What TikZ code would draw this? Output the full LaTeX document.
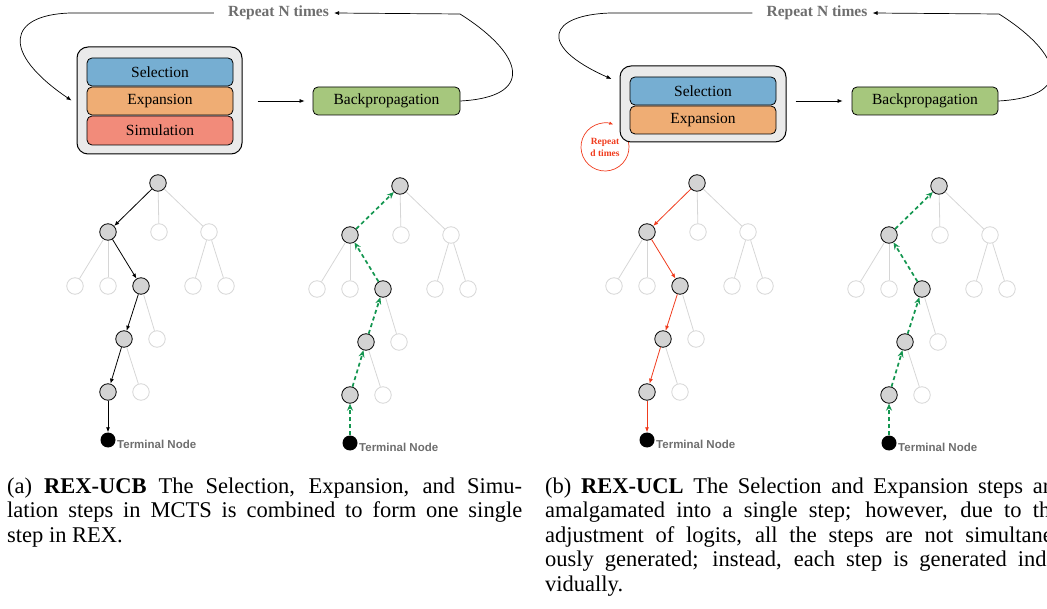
\documentclass[tikz,border=0pt]{standalone}
\usepackage{fontspec}
\setmainfont{Liberation Serif}
\newfontfamily\lblsans{Liberation Sans}
\usetikzlibrary{arrows.meta}
\definecolor{selc}{RGB}{118,174,210}
\definecolor{expc}{RGB}{239,173,116}
\definecolor{simc}{RGB}{242,139,122}
\definecolor{bpc}{RGB}{166,199,125}
\definecolor{outc}{RGB}{234,234,234}
\definecolor{ngray}{RGB}{211,211,211}
\definecolor{lline}{RGB}{214,214,214}
\definecolor{txtgray}{RGB}{110,110,110}
\definecolor{redc}{RGB}{240,60,30}
\definecolor{greenc}{RGB}{20,150,80}
\tikzset{
  stepbox/.style={draw=black, line width=0.8pt, rounded corners=5pt, minimum width=146pt, minimum height=28pt, inner sep=0pt, font=\fontsize{15.5}{18}\selectfont},
  outerbox/.style={draw=black, line width=1pt, fill=outc, rounded corners=11pt, inner sep=0pt},
  reptext/.style={inner sep=0pt, text=txtgray, font=\bfseries\fontsize{15.5}{18}\selectfont},
  loopline/.style={draw=black, line width=0.7pt, -{Latex[length=5pt,width=4pt]}},
  gn/.style={circle, draw=black, fill=ngray, line width=0.8pt, minimum size=16.5pt, inner sep=0pt},
  wn/.style={circle, draw=lline, fill=white, line width=0.8pt, minimum size=16.5pt, inner sep=0pt},
  tn/.style={circle, fill=black, minimum size=15pt, inner sep=0pt},
  tedge/.style={draw=lline, line width=0.8pt},
  tlabel/.style={anchor=base west, inner sep=0pt, text=txtgray, font=\lblsans\bfseries\fontsize{11.5}{13}\selectfont},
  selarrow/.style={draw=black, line width=0.8pt, -{Latex[length=5pt,width=4pt]}},
  redarrow/.style={draw=redc, line width=0.8pt, -{Latex[length=5pt,width=4pt]}},
  greenarrow/.style={draw=greenc, line width=1.7pt, dash pattern=on 4pt off 3pt, -{Stealth[length=7pt,width=6pt]}},
  captext/.style={anchor=base west, inner sep=0pt, font=\fontsize{22.5}{25}\selectfont},
}
\newcommand\treenodes[3]{%
  \begin{scope}[shift={(#2,#3)}]
    \node[gn] (#1r) at (0,0) {};
    \node[gn] (#1a1) at (-50,49) {};
    \node[wn] (#1a2) at (1,49) {};
    \node[wn] (#1a3) at (51,49) {};
    \node[wn] (#1b1) at (-83,103) {};
    \node[wn] (#1b2) at (-50,103) {};
    \node[gn] (#1b3) at (-17,103) {};
    \node[wn] (#1b4) at (35,103) {};
    \node[wn] (#1b5) at (68,103) {};
    \node[gn] (#1c1) at (-34,156) {};
    \node[wn] (#1c2) at (-1,156) {};
    \node[gn] (#1d1) at (-50,209) {};
    \node[wn] (#1d2) at (-17,209) {};
    \node[tn] (#1t) at (-50,257) {};
    \node[tlabel] (#1lbl) at (-41,265) {Terminal Node};
  \end{scope}
  \foreach \u/\v in {r/a2, r/a3, a1/b1, a1/b2, a3/b4, a3/b5, b3/c2, c1/d2}
    \draw[tedge] (#1\u) -- (#1\v);
}
\begin{document}
\begin{tikzpicture}[x=1pt,y=-1pt]
\useasboundingbox (0,0) rectangle (1047,609);
\clip (0,0) rectangle (1047,609);

% ---------- left panel ----------
\node[outerbox, minimum width=165pt, minimum height=107pt] (out1) at (159.5,100.5) {};
\node[stepbox, fill=selc] (sel1) at (160,72) {Selection};
\node[stepbox, fill=expc] (exp1) at (160,101) {Expansion};
\node[stepbox, fill=simc, minimum height=29pt] (sim1) at (160,130.5) {Simulation};
\node[stepbox, fill=bpc, minimum width=147pt] (bp1) at (386.5,101) {Backpropagation};
\node[reptext] (rep1) at (278.5,13) {Repeat N times};
\draw[loopline, shorten <=15pt, shorten >=8pt] (out1.east |- bp1.west) -- (bp1.west);
\draw[loopline] ([xshift=-14pt]rep1.west) -- (70,13) .. controls (8,15) and (0,52) .. ([xshift=-5pt]out1.west);
\draw[loopline] (bp1.east) .. controls (535,97) and (525,55) .. (460,14) -- ([xshift=5pt]rep1.east);

\treenodes{A}{158}{183}
\foreach \u/\v in {r/a1, a1/b3, b3/c1, c1/d1, d1/t}
  \draw[selarrow] (A\u) -- (A\v);
\treenodes{B}{400}{186}
\foreach \u/\v in {r/a1, a1/b3, b3/c1, c1/d1, d1/t}
  \draw[greenarrow] (B\v) -- (B\u);

% ---------- right panel ----------
\node[inner sep=0pt, text=redc, align=center, font=\bfseries\fontsize{9.5}{12}\selectfont] (rc) at (605,147) {Repeat\\d times};
\draw[draw=redc, line width=0.7pt, -{Latex[length=4pt,width=3.5pt]}] ([shift={(-25:24)}]rc.center) arc[start angle=-25, end angle=290, radius=24];
\node[outerbox, minimum width=166pt, minimum height=76pt] (out2) at (703,104) {};
\node[stepbox, fill=selc] (sel2) at (703,91) {Selection};
\node[stepbox, fill=expc] (exp2) at (703,120) {Expansion};
\node[stepbox, fill=bpc] (bp2) at (925,101) {Backpropagation};
\node[reptext] (rep2) at (817,13) {Repeat N times};
\draw[loopline, shorten <=9pt, shorten >=9pt] (out2.east |- bp2.west) -- (bp2.west);
\draw[loopline] ([xshift=-14pt]rep2.west) -- (610,13) .. controls (550,15) and (535,45) .. ([xshift=-8pt,yshift=25pt]out2.west);
\draw[loopline] (bp2.east) .. controls (1074,97) and (1064,55) .. (999,14) -- ([xshift=5pt]rep2.east);

\treenodes{C}{697}{183}
\foreach \u/\v in {r/a1, a1/b3, b3/c1, c1/d1, d1/t}
  \draw[redarrow] (C\u) -- (C\v);
\treenodes{D}{939}{186}
\foreach \u/\v in {r/a1, a1/b3, b3/c1, c1/d1, d1/t}
  \draw[greenarrow] (D\v) -- (D\u);

% ---------- captions ----------
\node[captext] (ca1) at (7,493) {\makebox[515pt][s]{(a) \textbf{REX-UCB} The Selection, Expansion, and Simu-}};
\node[captext] (ca2) at (7,517.5) {\makebox[515pt][s]{lation steps in MCTS is combined to form one single}};
\node[captext] (ca3) at (7,542) {step in REX.};
\node[captext] (cb1) at (545,493) {\makebox[515pt][s]{(b) \textbf{REX-UCL} The Selection and Expansion steps are}};
\node[captext] (cb2) at (545,517.5) {\makebox[515pt][s]{amalgamated into a single step; however, due to the}};
\node[captext] (cb3) at (545,542) {\makebox[515pt][s]{adjustment of logits, all the steps are not simultane-}};
\node[captext] (cb4) at (545,566.5) {\makebox[515pt][s]{ously generated; instead, each step is generated indi-}};
\node[captext] (cb5) at (545,591) {vidually.};
\end{tikzpicture}
\end{document}
